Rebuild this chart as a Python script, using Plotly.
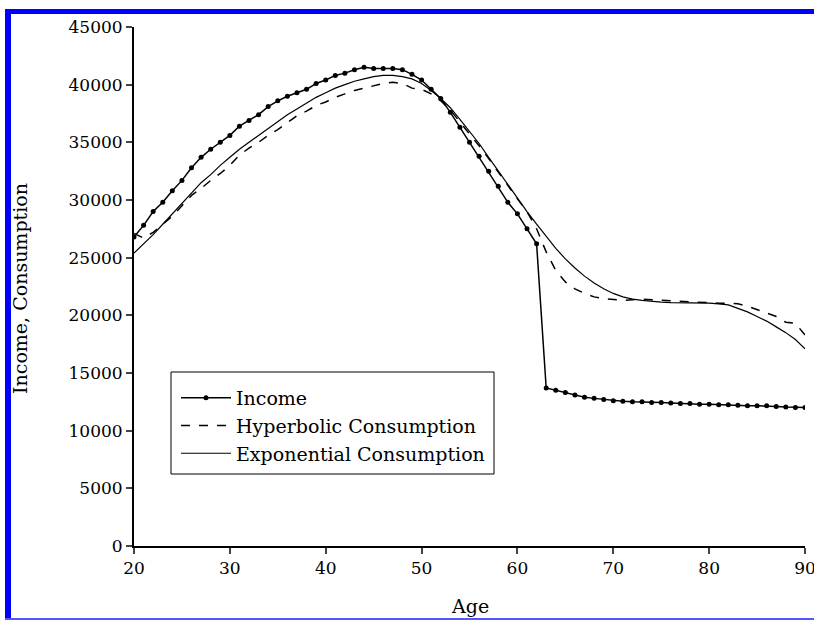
import plotly.graph_objects as go

ages = list(range(20, 91))

income = [26800, 27800, 29000, 29800, 30800, 31700, 32800, 33700, 34400, 35000,
          35600, 36400, 36900, 37400, 38100, 38600, 39000, 39300, 39600, 40100,
          40400, 40800, 41000, 41300, 41500, 41400, 41400, 41400, 41300, 40900,
          40400, 39600, 38800, 37600, 36300, 35000, 33800, 32500, 31200, 29800,
          28800, 27500, 26200, 13700, 13500, 13300, 13100, 12900, 12800, 12700,
          12600, 12550, 12500, 12500, 12450, 12450, 12400, 12350, 12350, 12300,
          12300, 12250, 12250, 12200, 12150, 12150, 12150, 12100, 12050, 12000,
          12000]

hyperbolic = [27100, 26700, 27200, 27900, 28600, 29500, 30400, 31000, 31700, 32300,
              33000, 33900, 34500, 35000, 35600, 36100, 36700, 37300, 37700, 38200,
              38500, 38900, 39200, 39500, 39700, 39900, 40100, 40200, 40100, 39700,
              39600, 39200, 38600, 37800, 36800, 35800, 34700, 33600, 32400, 31300,
              30100, 29000, 27500, 25500, 23900, 22900, 22300, 21900, 21600, 21450,
              21350, 21300, 21350, 21400, 21350, 21300, 21250, 21200, 21150, 21100,
              21050, 21050, 21050, 21000, 20800, 20500, 20200, 19900, 19400, 19300,
              18300]

exponential = [25400, 26200, 27000, 27900, 28800, 29700, 30600, 31500, 32200, 33000,
               33700, 34400, 35000, 35600, 36200, 36800, 37400, 37900, 38400, 38900,
               39300, 39700, 40000, 40300, 40500, 40700, 40800, 40800, 40700, 40500,
               40100, 39500, 38800, 38000, 37000, 36000, 34900, 33700, 32500, 31300,
               30200, 29000, 27900, 26800, 25800, 24900, 24100, 23400, 22800, 22300,
               21900, 21600, 21400, 21300, 21200, 21150, 21100, 21100, 21050, 21050,
               21050, 21000, 20900, 20600, 20300, 19900, 19500, 19000, 18500, 17900,
               17100]

x_ticks = [20, 30, 40, 50, 60, 70, 80, 90]
x_ticktext = ["20", "30", "40", "50", "60", "70", "80", "90"]
y_ticks = [0, 5000, 10000, 15000, 20000, 25000, 30000, 35000, 40000, 45000]
y_ticktext = ["0", "5000", "10000", "15000", "20000", "25000", "30000", "35000", "40000", "45000"]

FONT = "DejaVu Serif"
W, H = 814, 620
ML, MR, MT, MB = 134, 9, 27, 74
PW, PH = W - ML - MR, H - MT - MB

def px(xp):
    return (xp - ML) / PW

def py(yp):
    return (H - MB - yp) / PH

fig = go.Figure()
fig.add_trace(go.Scatter(x=ages, y=income, name="Income", mode="lines+markers",
                         line=dict(color="black", width=1.5),
                         marker=dict(color="black", size=5)))
fig.add_trace(go.Scatter(x=ages, y=hyperbolic, name="Hyperbolic Consumption", mode="lines",
                         line=dict(color="black", width=1.5, dash="dash")))
fig.add_trace(go.Scatter(x=ages, y=exponential, name="Exponential Consumption", mode="lines",
                         line=dict(color="black", width=1.2)))

shapes = [
    dict(type="rect", xref="paper", yref="paper", x0=px(5), x1=px(11), y0=py(620), y1=py(9),
         fillcolor="#0000FF", line=dict(width=0), layer="above"),
    dict(type="rect", xref="paper", yref="paper", x0=px(5), x1=px(814), y0=py(14), y1=py(9),
         fillcolor="#0000FF", line=dict(width=0), layer="above"),
    dict(type="rect", xref="paper", yref="paper", x0=px(5), x1=px(814), y0=py(620), y1=py(618),
         fillcolor="#5555FF", line=dict(width=0), layer="above"),
    # legend frame
    dict(type="rect", xref="paper", yref="paper", x0=px(171), x1=px(494), y0=py(474), y1=py(372),
         fillcolor="rgba(0,0,0,0)", line=dict(color="black", width=1), layer="above"),
]

annotations = [
    dict(text="Age", xref="paper", yref="paper", x=px(470), y=py(606),
         xanchor="center", yanchor="middle", showarrow=False, font=dict(size=19)),
    dict(text="Income, Consumption", xref="paper", yref="paper", x=px(20), y=py(288),
         xanchor="center", yanchor="middle", showarrow=False, textangle=-90,
         font=dict(size=19)),
]

fig.update_layout(
    width=W, height=H,
    margin=dict(l=ML, r=MR, t=MT, b=MB, pad=0, autoexpand=False),
    paper_bgcolor="white", plot_bgcolor="white",
    font=dict(family=FONT, color="black", size=16),
    showlegend=True,
    legend=dict(x=px(176), y=py(379), xanchor="left", yanchor="top",
                borderwidth=0, bgcolor="white", itemwidth=50,
                font=dict(family=FONT, size=19), tracegroupgap=0),
    xaxis=dict(range=[20, 90], tickvals=x_ticks, ticktext=x_ticktext, ticks="outside",
               ticklen=6, tickwidth=1.5, automargin=False, ticklabeloverflow="allow",
               showline=True, linecolor="black", linewidth=2, showgrid=False, zeroline=False,
               tickfont=dict(size=17)),
    yaxis=dict(range=[0, 45000], tickvals=y_ticks, ticktext=y_ticktext, ticks="outside",
               ticklen=6, tickwidth=1.5, automargin=False, ticklabeloverflow="allow",
               showline=True, linecolor="black", linewidth=2, showgrid=False, zeroline=False,
               tickfont=dict(size=17)),
    shapes=shapes,
    annotations=annotations,
)

fig.write_html("out.html", config={"displayModeBar": False},
               post_script="document.body.style.margin='0';document.body.style.overflow='hidden';")
